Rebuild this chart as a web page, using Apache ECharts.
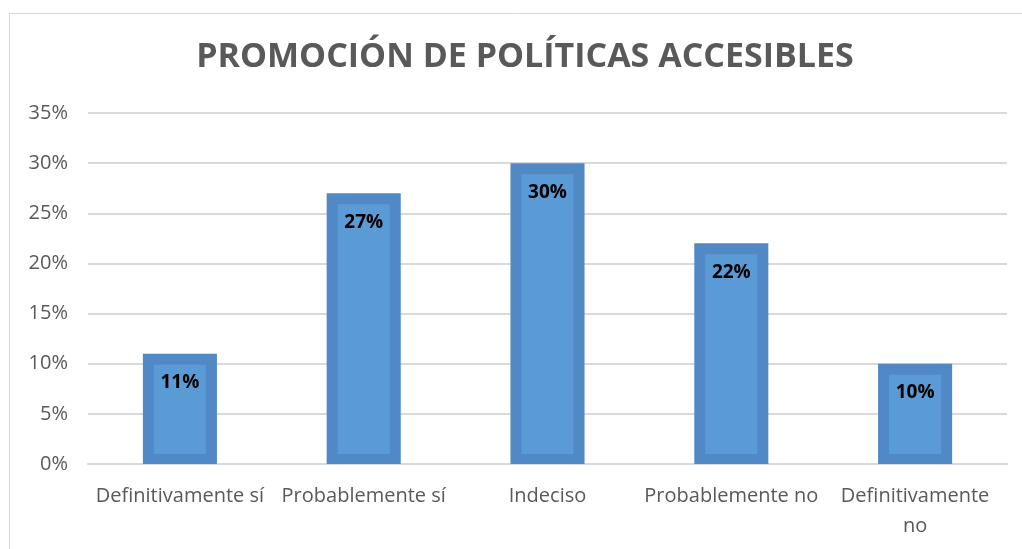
<!DOCTYPE html>
<html>
<head>
<meta charset="utf-8">
<script src="https://cdn.jsdelivr.net/npm/echarts@6/dist/echarts.min.js"></script>
<style>
html,body{margin:0;padding:0;background:#fff;}
#c{width:1022px;height:549px;}
</style>
</head>
<body>
<div id="c"></div>
<script>
const titleText = 'PROMOCIÓN DE POLÍTICAS ACCESIBLES';
const categories = ['Definitivamente sí', 'Probablemente sí', 'Indeciso', 'Probablemente no', 'Definitivamente no'];
const values = [11, 27, 30, 22, 10];
const yMin = 0, yMax = 35, yStep = 5;

const FONT = '"Open Sans", "Noto Sans", sans-serif';
const chart = echarts.init(document.getElementById('c'));
chart.setOption({
  animation: false,
  backgroundColor: '#fff',
  title: {
    text: titleText,
    left: 520, top: 35, textAlign: 'center',
    textStyle: {fontFamily: FONT, fontSize: 34, fontWeight: 'bold', color: '#595959'}
  },
  graphic: [{
    type: 'rect', shape: {x: 9.5, y: 13.5, width: 1100, height: 600},
    style: {fill: 'none', stroke: '#d9d9d9', lineWidth: 1}, silent: true, z: -1
  }],
  grid: {left: 88, right: 15, top: 113, bottom: 85},
  xAxis: {
    type: 'category', data: categories,
    axisLine: {show: true, lineStyle: {color: '#d9d9d9', width: 2}},
    axisTick: {show: false},
    axisLabel: {
      interval: 0, fontFamily: FONT, fontSize: 20, color: '#595959', margin: 17, lineHeight: 30,
      formatter: v => v === 'Definitivamente no' ? 'Definitivamente\nno' : v
    }
  },
  yAxis: {
    type: 'value', min: yMin, max: yMax, interval: yStep,
    axisLine: {show: false}, axisTick: {show: false},
    splitLine: {lineStyle: {color: '#d9d9d9', width: 2}},
    axisLabel: {fontFamily: FONT, fontSize: 20, color: '#595959', margin: 20, formatter: '{value}%'}
  },
  series: [{
    type: 'custom',
    data: values.map((v, i) => [i, v]),
    encode: {x: 0, y: 1},
    renderItem: function (params, api) {
      const v = api.value(1);
      const top = api.coord([api.value(0), v]);
      const base = api.coord([api.value(0), 0]);
      const w = api.size([1, 0])[0] * 0.403;
      const x0 = top[0] - w / 2;
      const h = base[1] - top[1];
      const inset = 11;
      return {
        type: 'group',
        children: [
          {type: 'rect', shape: {x: x0, y: top[1], width: w, height: h}, style: {fill: '#5089c6'}},
          {type: 'rect', shape: {x: x0 + inset, y: top[1] + inset, width: w - 2 * inset, height: h - inset - 10}, style: {fill: '#5b9bd5'}},
          {type: 'text', x: top[0], y: top[1] + 29,
           style: {text: v + '%', textAlign: 'center', textVerticalAlign: 'middle', fill: '#000',
                   font: 'bold 19px ' + FONT}}
        ]
      };
    }
  }]
});
</script>
</body>
</html>
